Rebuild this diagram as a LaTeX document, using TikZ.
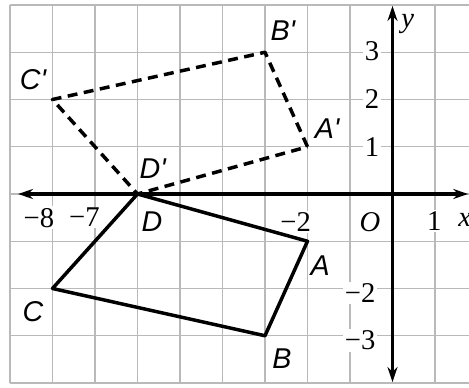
\documentclass[tikz,border=0pt]{standalone}
\usepackage{fontspec}
\setmainfont{Liberation Serif}
\newfontfamily\ptfont{Liberation Sans}
\usetikzlibrary{arrows.meta}
\newcommand{\prm}{\char"0027}

\begin{document}
\begin{tikzpicture}[x=0.6cm,y=0.667cm,
  gridline/.style={gray!55,line width=0.6pt},
  axis/.style={line width=1.6pt,{Stealth[length=6pt,width=4pt]}-{Stealth[length=6pt,width=4pt]}},
  orig/.style={line width=1.4pt,line join=round},
  refl/.style={line width=1.4pt,dash pattern=on 4pt off 2.6pt,line join=round},
  ptlbl/.style={font=\fontsize{11.5}{13}\ptfont\itshape,inner sep=0pt},
  num/.style={font=\fontsize{11.5}{13}\selectfont,fill=white,inner sep=0.6pt}]
\useasboundingbox (-9.235,-4.085) rectangle (1.8,4.106);
\draw[gridline,step={(1,1)}] (-9,-4) grid (1.8,4);
% axes
\coordinate (xl) at (-8.81,0);
\coordinate (xr) at (1.78,0);
\coordinate (yb) at (0,-3.98);
\coordinate (yt) at (0,3.98);
\draw[axis] (xl) -- (xr);
\draw[axis] (yb) -- (yt);
% tick labels
\node[num] (xm8) at (-8.32,-0.5) {−8};
\node[num] (xm7) at (-7.25,-0.5) {−7};
\node[num] (xm2) at (-2.28,-0.6) {−2};
\node[num] (orgn) at (-0.53,-0.6) {\itshape O};
\node[num] (xp1) at (0.98,-0.57) {1};
\node[num,fill=none] (xname) at (1.7,-0.55) {\itshape x};
\node[num] (yp3) at (-0.48,3.02) {3};
\node[num] (yp2) at (-0.48,2) {2};
\node[num] (yp1) at (-0.48,0.99) {1};
\node[num] (ym2) at (-0.76,-2.1) {−2};
\node[num] (ym3) at (-0.76,-3.1) {−3};
\node[num,fill=none] (yname) at (0.36,3.6) {\itshape y};
% quadrilateral ABCD
\coordinate (A) at (-2,-1);
\coordinate (B) at (-3,-3);
\coordinate (C) at (-8,-2);
\coordinate (D) at (-6,0);
\draw[orig] (A) -- (B) -- (C) -- (D) -- cycle;
% its image A'B'C'D'
\coordinate (Ap) at (-2,1);
\coordinate (Bp) at (-3,3);
\coordinate (Cp) at (-8,2);
\coordinate (Dp) at (-6,0);
\draw[refl] (Ap) -- (Bp) -- (Cp) -- (Dp) -- cycle;
% vertex labels
\node[ptlbl] (lA) at (-1.7,-1.52) {A};
\node[ptlbl] (lB) at (-2.6,-3.49) {B};
\node[ptlbl] (lC) at (-8.46,-2.5) {C};
\node[ptlbl] (lD) at (-5.66,-0.59) {D};
\node[ptlbl] (lAp) at (-1.54,1.38) {A\prm};
\node[ptlbl] (lBp) at (-2.58,3.45) {B\prm};
\node[ptlbl] (lCp) at (-8.46,2.43) {C\prm};
\node[ptlbl] (lDp) at (-5.64,0.53) {D\prm};
\end{tikzpicture}
\end{document}
